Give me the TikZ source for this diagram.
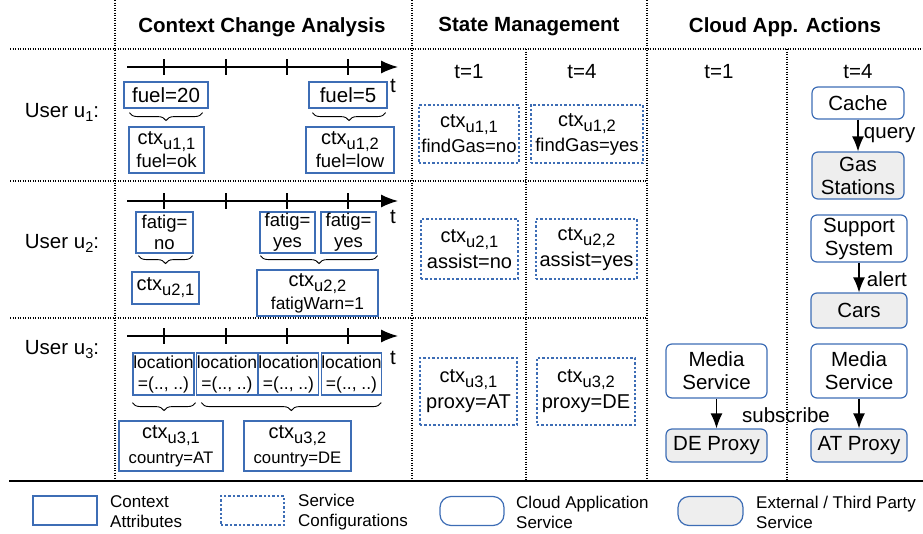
\documentclass[tikz,border=0pt]{standalone}
\usepackage{fontspec}
\setmainfont{Liberation Sans}
\usetikzlibrary{arrows.meta}
\usetikzlibrary{decorations.pathreplacing}

\definecolor{boxblue}{HTML}{3D6DB5}
\definecolor{extgray}{HTML}{EEEEEE}

\newcommand{\fs}[2]{\fontsize{#1}{#2}\selectfont}
\newcommand{\ctxsub}[1]{ctx\raisebox{-5pt}{\fs{16.5}{17}#1}}
\newcommand{\usrsub}[1]{User u\raisebox{-4pt}{\fs{14.5}{15}#1}:}

\begin{document}
\begin{tikzpicture}[x=1pt,y=-1pt,
	gridln/.style={dash pattern=on 1pt off 1.5pt,line width=1.1pt},
	ctxbox/.style={draw=boxblue,line width=1.2pt,inner sep=0pt,align=center,font=\fs{20}{22}},
	cfgbox/.style={ctxbox,dash pattern=on 2.4pt off 2pt},
	svcbox/.style={ctxbox,rounded corners=6pt,font=\fs{20.5}{23}},
	extbox/.style={svcbox,fill=extgray},
	timeax/.style={line width=1.3pt,-{Latex[length=17pt,width=13pt]}},
	flow/.style={line width=1.3pt,-{Latex[length=15pt,width=12pt]}},
	brc/.style={decorate,decoration={brace,amplitude=8pt,mirror},line width=0.9pt},
	lbl/.style={font=\fs{20.5}{23}},
	hdr/.style={font=\bfseries\fs{20.5}{23}},
	lgd/.style={font=\fs{17}{20},align=left,anchor=west,inner sep=0pt}]
	\useasboundingbox (0,0) rectangle (923,533);

	\draw[gridln] (10,49) -- (923,49);
	\draw[gridln] (10,181) -- (647,181);
	\draw[gridln] (10,318) -- (647,318);
	\foreach \gx in {115,412,647} \draw[gridln] (\gx,0) -- (\gx,481);
	\foreach \gx in {526,787} \draw[gridln] (\gx,49) -- (\gx,481);
	\draw[line width=1.5pt] (9,481) -- (923,481);

	\node[hdr] (hctx) at (262,27) {Context Change Analysis};
	\node[hdr] (hstate) at (529,27) {State Management};
	\node[hdr] (hcloud) at (785,27) {Cloud App. Actions};

	\node[lbl] (usr1) at (62,112) {\usrsub{1}};
	\node[lbl] (usr2) at (62,243) {\usrsub{2}};
	\node[lbl] (usr3) at (62,350) {\usrsub{3}};

	\foreach \ty/\r/\tl in {67/1/86,201/2/217,336/3/358}{
		\coordinate (tl\r s) at (127,\ty);
		\coordinate (tl\r e) at (398,\ty);
		\draw[timeax] (tl\r s) -- (tl\r e);
		\foreach \tx in {164,226,287,348}
			\draw[line width=1.3pt] (\tx,{\ty-8}) -- (\tx,{\ty+8});
		\node[lbl] (tt\r) at (393,\tl) {t};
	}

	\node[ctxbox,minimum width=84pt,minimum height=26pt,font=\fs{20.5}{22}] (f20) at (166,95) {fuel=20};
	\node[ctxbox,minimum width=78pt,minimum height=26pt,font=\fs{20.5}{22}] (f5) at (348,95) {fuel=5};
	\draw[brc] ([xshift=6pt,yshift=-4pt]f20.south west) -- ([xshift=-6pt,yshift=-4pt]f20.south east);
	\draw[brc] ([xshift=4pt,yshift=-4pt]f5.south west) -- ([xshift=-2pt,yshift=-4pt]f5.south east);
	\node[ctxbox,minimum width=75pt,minimum height=46pt] (c11) at (166.5,150) {\ctxsub{u1,1}\\[1pt]{\fs{18.5}{20}fuel=ok}};
	\node[ctxbox,minimum width=88pt,minimum height=46pt] (c12) at (350,150) {\ctxsub{u1,2}\\[1pt]{\fs{18.5}{20}fuel=low}};

	\node[ctxbox,minimum width=57pt,minimum height=41pt,font=\fs{18.5}{21}] (fn) at (164.5,232.5) {fatig=\\no};
	\node[ctxbox,minimum width=55pt,minimum height=41pt,font=\fs{18.5}{21}] (fy1) at (287.5,232.5) {fatig=\\yes};
	\node[ctxbox,minimum width=55pt,minimum height=41pt,font=\fs{18.5}{21}] (fy2) at (348.5,232.5) {fatig=\\yes};
	\draw[brc] ([xshift=3pt,yshift=-2pt]fn.south west) -- ([xshift=-1pt,yshift=-2pt]fn.south east);
	\draw[brc] ([xshift=1pt,yshift=-2pt]fy1.south west) -- ([xshift=1pt,yshift=-2pt]fy2.south east);
	\node[ctxbox,minimum width=67pt,minimum height=32pt] (c21) at (165.5,288) {\ctxsub{u2,1}};
	\node[ctxbox,minimum width=121pt,minimum height=46pt] (c22) at (317.5,293) {\ctxsub{u2,2}\\[1pt]{\fs{17.3}{19}fatigWarn=1}};

	\node[ctxbox,minimum width=61pt,minimum height=42pt,font=\fs{17.5}{21}] (l1) at (163.5,374) {location\\=(.., ..)};
	\node[ctxbox,minimum width=60pt,minimum height=42pt,font=\fs{17.5}{21}] (l2) at (227,374) {location\\=(.., ..)};
	\node[ctxbox,minimum width=59pt,minimum height=42pt,font=\fs{17.5}{21}] (l3) at (288.5,374) {location\\=(.., ..)};
	\node[ctxbox,minimum width=59pt,minimum height=42pt,font=\fs{17.5}{21}] (l4) at (351.5,374) {location\\=(.., ..)};
	\draw[brc] ([yshift=-7pt]l1.south west) -- ([xshift=1pt,yshift=-7pt]l1.south east);
	\draw[brc] ([xshift=5pt,yshift=-7pt]l2.south west) -- ([xshift=-1pt,yshift=-7pt]l4.south east);
	\node[ctxbox,minimum width=104pt,minimum height=50pt] (c31) at (171,446) {\ctxsub{u3,1}\\[3pt]{\fs{16.7}{19}country=AT}};
	\node[ctxbox,minimum width=107pt,minimum height=50pt] (c32) at (297.5,446) {\ctxsub{u3,2}\\[3pt]{\fs{16.7}{19}country=DE}};

	\node[lbl] (st1) at (469,72) {t=1};
	\node[lbl] (st4) at (582,72) {t=4};
	\node[lbl] (ct1) at (719,72) {t=1};
	\node[lbl] (ct4) at (858,72) {t=4};

	\node[cfgbox,minimum width=100pt,minimum height=58pt] (s11) at (469,134) {\ctxsub{u1,1}\\[3pt]{\fs{18.5}{20}findGas=no}};
	\node[cfgbox,minimum width=112pt,minimum height=58pt] (s12) at (587,134) {\ctxsub{u1,2}\\[3pt]{\fs{18.5}{20}findGas=yes}};
	\node[cfgbox,minimum width=97pt,minimum height=60pt] (s21) at (469.5,249) {\ctxsub{u2,1}\\[4pt]assist=no};
	\node[cfgbox,minimum width=101pt,minimum height=60pt] (s22) at (586.5,249) {\ctxsub{u2,2}\\[4pt]assist=yes};
	\node[cfgbox,minimum width=97pt,minimum height=67pt] (s31) at (468.5,391.5) {\ctxsub{u3,1}\\[4pt]proxy=AT};
	\node[cfgbox,minimum width=98pt,minimum height=67pt] (s32) at (586,391.5) {\ctxsub{u3,2}\\[4pt]proxy=DE};

	\node[svcbox,minimum width=92pt,minimum height=32pt] (cache) at (858,103) {Cache};
	\node[extbox,minimum width=92pt,minimum height=47pt] (gas) at (858,175.5) {Gas\\Stations};
	\node[svcbox,minimum width=96pt,minimum height=47pt] (supp) at (859,238.5) {Support\\System};
	\node[extbox,minimum width=96pt,minimum height=35pt] (cars) at (859,310.5) {Cars};
	\node[svcbox,minimum width=101pt,minimum height=54pt] (media1) at (716.5,371) {Media\\Service};
	\node[extbox,minimum width=101pt,minimum height=33pt] (deprx) at (716.5,445.5) {DE Proxy};
	\node[svcbox,minimum width=96pt,minimum height=54pt] (media2) at (859,371) {Media\\Service};
	\node[extbox,minimum width=96pt,minimum height=33pt] (atprx) at (859,445.5) {AT Proxy};

	\draw[flow] (cache) -- node[lbl,right,xshift=2pt] (qry) {query} (gas);
	\draw[flow] (supp) -- node[lbl,right,xshift=4pt,yshift=-2pt] (alrt) {alert} (cars);
	\draw[flow] (media1) -- (deprx);
	\draw[flow] (media2) -- (atprx);
	\node[lbl] (subs) at (786,415) {subscribe};

	\node[ctxbox,minimum width=64pt,minimum height=29pt] (lg1) at (65,510.5) {};
	\node[lgd] (lgt1) at (110,512) {Context\\Attributes};
	\node[cfgbox,minimum width=63pt,minimum height=29pt] (lg2) at (252.5,510.5) {};
	\node[lgd] (lgt2) at (298,512) {Service\\Configurations};
	\node[svcbox,rounded corners=11pt,minimum width=64pt,minimum height=29pt] (lg3) at (472,511) {};
	\node[lgd] (lgt3) at (516,512) {Cloud Application\\Service};
	\node[extbox,rounded corners=11pt,minimum width=65pt,minimum height=29pt] (lg4) at (710.5,511) {};
	\node[lgd] (lgt4) at (756,512) {External / Third Party\\Service};

\end{tikzpicture}
\end{document}
